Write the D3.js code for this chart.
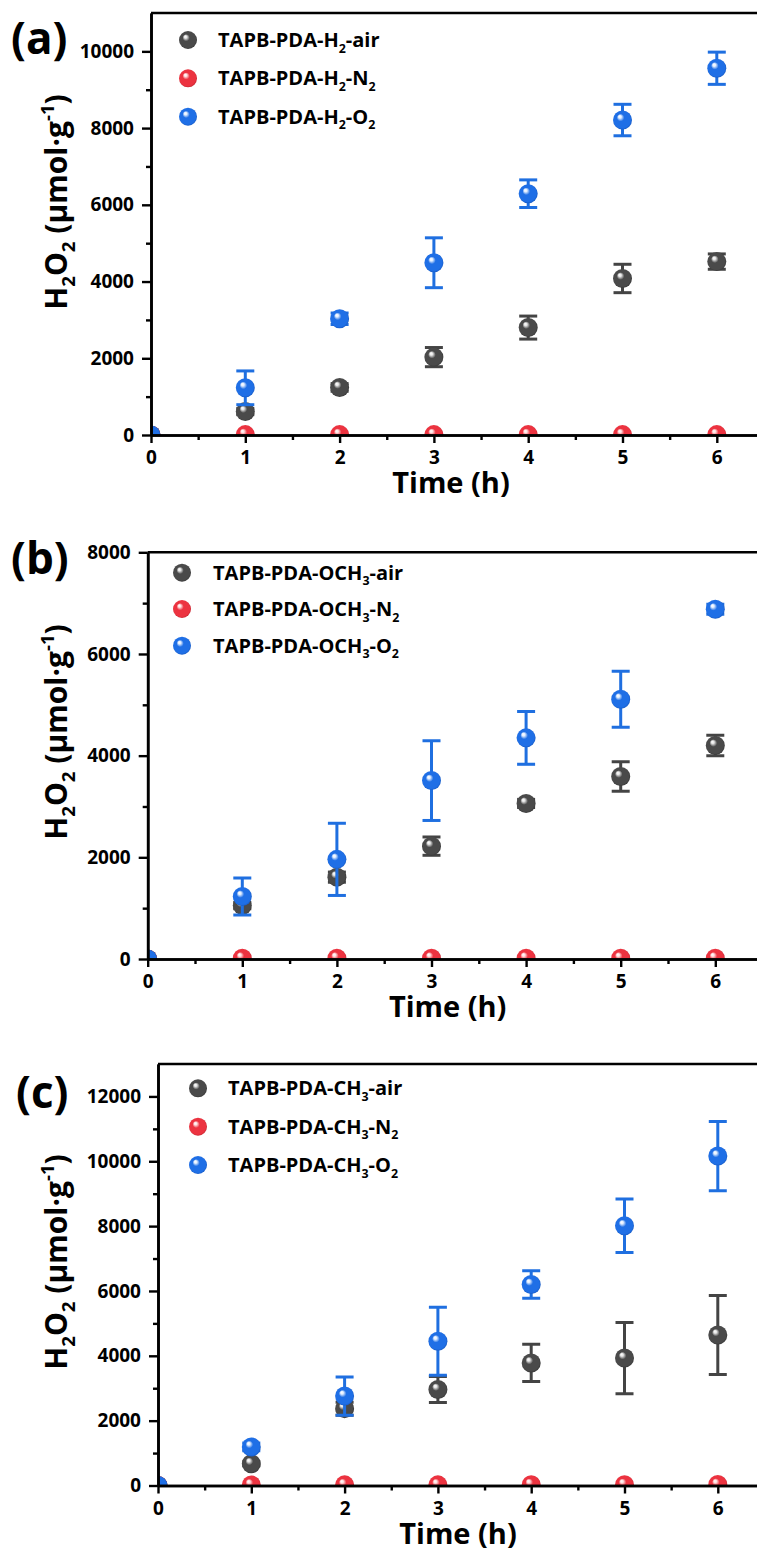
<!DOCTYPE html>
<html>
<head>
<meta charset="utf-8">
<script src="https://cdn.jsdelivr.net/npm/d3@7"></script>
<style>
  body { margin: 0; background: #fff; }
  svg { display: block; }
  text { font-family: "Open Sans", "DejaVu Sans", sans-serif; font-weight: 700; fill: #000; }
</style>
</head>
<body>
<svg id="chart" width="757" height="1552"></svg>
<script>
// Sampling times (h)
const hours = [0, 1, 2, 3, 4, 5, 6];

// (a) TAPB-PDA-H2, H2O2 yield (umol/g) and error
const airA    = [0, 610, 1240, 2030, 2800, 4080, 4520];
const airAErr = [0, 80, 100, 250, 300, 370, 200];
const n2A     = [0, 10, 10, 10, 10, 10, 10];
const n2AErr  = [0, 0, 0, 0, 0, 0, 0];
const o2A     = [0, 1230, 3030, 4490, 6290, 8210, 9560];
const o2AErr  = [0, 440, 150, 650, 360, 410, 420];

// (b) TAPB-PDA-OCH3
const airB    = [0, 1050, 1610, 2220, 3060, 3590, 4200];
const airBErr = [0, 60, 100, 180, 80, 290, 200];
const n2B     = [0, 15, 15, 15, 15, 15, 15];
const n2BErr  = [0, 0, 0, 0, 0, 0, 0];
const o2B     = [0, 1230, 1960, 3510, 4350, 5110, 6880];
const o2BErr  = [0, 365, 710, 785, 520, 550, 100];

// (c) TAPB-PDA-CH3
const airC    = [0, 670, 2370, 2960, 3780, 3930, 4640];
const airCErr = [0, 60, 200, 400, 575, 1100, 1220];
const n2C     = [0, 15, 20, 20, 25, 25, 30];
const n2CErr  = [0, 0, 0, 0, 0, 0, 0];
const o2C     = [0, 1190, 2760, 4450, 6200, 8010, 10160];
const o2CErr  = [0, 120, 590, 1050, 425, 825, 1070];

// Legend entries (_{..} subscript, ^{..} superscript)
const legendA = ["TAPB-PDA-H_{2}-air", "TAPB-PDA-H_{2}-N_{2}", "TAPB-PDA-H_{2}-O_{2}"];
const legendB = ["TAPB-PDA-OCH_{3}-air", "TAPB-PDA-OCH_{3}-N_{2}", "TAPB-PDA-OCH_{3}-O_{2}"];
const legendC = ["TAPB-PDA-CH_{3}-air", "TAPB-PDA-CH_{3}-N_{2}", "TAPB-PDA-CH_{3}-O_{2}"];

// Axis ticks and titles
const xTicks = [0, 1, 2, 3, 4, 5, 6];
const xMinorTicks = [0.5, 1.5, 2.5, 3.5, 4.5, 5.5, 6.5];
const yTicksA = [0, 2000, 4000, 6000, 8000, 10000];
const yTicksB = [0, 2000, 4000, 6000, 8000];
const yTicksC = [0, 2000, 4000, 6000, 8000, 10000, 12000];
const xTitle = "Time (h)";
const yTitle = "H_{2}O_{2} (μmol·g^{-1})";
const panelTags = ["(a)", "(b)", "(c)"];

// Sphere palette: [highlight, base, edge]
const palette = {
  air: ["#e6e6e6", "#4a4a4a", "#2f2f2f"],
  n2:  ["#ffe2e2", "#ec3340", "#b3202a"],
  o2:  ["#e3efff", "#1f6fe6", "#1552b5"]
};
const barColor = { air: "#444444", n2: "#e3323d", o2: "#1f6fe0" };

const svg = d3.select("#chart");
svg.append("rect").attr("width", 757).attr("height", 1552).attr("fill", "#fff");

const defs = svg.append("defs");
Object.entries(palette).forEach(([k, c]) => {
  const g = defs.append("radialGradient").attr("id", "ball-" + k)
    .attr("cx", "50%").attr("cy", "50%").attr("r", "55%")
    .attr("fx", "34%").attr("fy", "30%");
  g.append("stop").attr("offset", "0%").attr("stop-color", "#ffffff");
  g.append("stop").attr("offset", "14%").attr("stop-color", c[0]);
  g.append("stop").attr("offset", "36%").attr("stop-color", c[1]);
  g.append("stop").attr("offset", "82%").attr("stop-color", c[1]);
  g.append("stop").attr("offset", "100%").attr("stop-color", c[2]);
});

function rich(sel, str, size) {
  const parts = str.match(/_\{[^}]*\}|\^\{[^}]*\}|[^_^]+/g);
  let shift = 0;
  parts.forEach(p => {
    let target = 0, txt = p, fs = size;
    if (p[0] === "_") { target = size * 0.28; txt = p.slice(2, -1); fs = size * 0.62; }
    else if (p[0] === "^") { target = -size * 0.42; txt = p.slice(2, -1); fs = size * 0.62; }
    sel.append("tspan").attr("dy", target - shift).attr("font-size", fs).text(txt);
    shift = target;
  });
}

const panels = [
  { tag: panelTags[0], tagX: 11, tagY: 54, x0: 151, pxPerH: 94.3, yTop: 13, yBot: 435, yMax: 11000,
    yTicks: yTicksA, legend: legendA, legX: 188, legY: [40, 78.3, 116.7], textX: 218, titleY: 202,
    series: [
      { key: "air", v: airA, e: airAErr },
      { key: "n2", v: n2A, e: n2AErr },
      { key: "o2", v: o2A, e: o2AErr }
    ] },
  { tag: panelTags[1], tagX: 11, tagY: 574, x0: 147.7, pxPerH: 94.6, yTop: 552.3, yBot: 959, yMax: 8000,
    yTicks: yTicksB, legend: legendB, legX: 182, legY: [572.7, 609, 645.7], textX: 213, titleY: 732,
    series: [
      { key: "air", v: airB, e: airBErr },
      { key: "n2", v: n2B, e: n2BErr },
      { key: "o2", v: o2B, e: o2BErr }
    ] },
  { tag: panelTags[2], tagX: 16, tagY: 1108, x0: 158, pxPerH: 93.3, yTop: 1064, yBot: 1485.5, yMax: 13000,
    yTicks: yTicksC, legend: legendC, legX: 198, legY: [1088.3, 1126.7, 1165], textX: 228, titleY: 1262,
    series: [
      { key: "air", v: airC, e: airCErr },
      { key: "n2", v: n2C, e: n2CErr },
      { key: "o2", v: o2C, e: o2CErr }
    ] }
];

const R = 9.5;
const fmt = d3.format("d");

panels.forEach((p, i) => {
  const x = d3.scaleLinear().domain([0, 6.5]).range([p.x0, p.x0 + 6.5 * p.pxPerH]);
  const y = d3.scaleLinear().domain([0, p.yMax]).range([p.yBot, p.yTop]);
  const g = svg.append("g");

  const clipId = "clip-" + i;
  defs.append("clipPath").attr("id", clipId).append("rect")
    .attr("x", p.x0).attr("y", p.yTop)
    .attr("width", 757 - p.x0).attr("height", p.yBot - p.yTop);

  const plot = g.append("g").attr("clip-path", `url(#${clipId})`);

  p.series.forEach(s => {
    const pts = hours.map((h, j) => ({ h, v: s.v[j], e: s.e[j] }));
    const bars = plot.append("g").attr("stroke", barColor[s.key]).attr("stroke-width", 3).attr("fill", "none");
    pts.filter(d => d.e > 0).forEach(d => {
      const cx = x(d.h), y1 = y(d.v + d.e), y2 = y(d.v - d.e);
      bars.append("line").attr("x1", cx).attr("x2", cx).attr("y1", y1).attr("y2", y2);
      bars.append("line").attr("x1", cx - 9).attr("x2", cx + 9).attr("y1", y1).attr("y2", y1);
      bars.append("line").attr("x1", cx - 9).attr("x2", cx + 9).attr("y1", y2).attr("y2", y2);
    });
    plot.append("g").selectAll("circle").data(pts).join("circle")
      .attr("cx", d => x(d.h)).attr("cy", d => y(d.v)).attr("r", R)
      .attr("fill", `url(#ball-${s.key})`);
  });

  // Top frame line
  g.append("line").attr("x1", p.x0).attr("x2", 757).attr("y1", p.yTop).attr("y2", p.yTop)
    .attr("stroke", "#000").attr("stroke-width", 2.6);

  // Y axis: major + minor ticks
  const yMinor = d3.range(1000, p.yMax, 2000);
  const yAxisMinor = d3.axisLeft(y).tickValues(yMinor).tickSize(5).tickSizeOuter(0).tickFormat("");
  const yAxis = d3.axisLeft(y).tickValues(p.yTicks).tickSize(9).tickSizeOuter(0).tickPadding(8).tickFormat(fmt);
  const ya = g.append("g").attr("transform", `translate(${p.x0},0)`);
  ya.call(yAxisMinor);
  ya.append("g").call(yAxis);

  // X axis: major + minor ticks
  const xAxisMinor = d3.axisBottom(x).tickValues(xMinorTicks).tickSize(5).tickSizeOuter(0).tickFormat("");
  const xAxis = d3.axisBottom(x).tickValues(xTicks).tickSize(8).tickSizeOuter(0).tickPadding(8).tickFormat(fmt);
  const xa = g.append("g").attr("transform", `translate(0,${p.yBot})`);
  xa.call(xAxisMinor);
  xa.append("g").call(xAxis);

  [ya, xa].forEach(a => {
    a.selectAll(".domain").attr("stroke", "#000").attr("stroke-width", 2.6);
    a.selectAll(".tick line").attr("stroke", "#000").attr("stroke-width", 2.4);
    a.selectAll(".tick text").attr("font-family", "Open Sans, sans-serif").attr("font-weight", 700)
      .attr("font-size", 19).attr("fill", "#000");
  });

  // Axis titles
  g.append("text").attr("x", p.x0 + 300).attr("y", p.yBot + 58)
    .attr("text-anchor", "middle").attr("font-size", 29).text(xTitle);
  const yt = g.append("text").attr("text-anchor", "middle")
    .attr("transform", `translate(67,${p.titleY}) rotate(-90)`);
  rich(yt, yTitle, 30);

  // Panel tag
  g.append("text").attr("x", p.tagX).attr("y", p.tagY).attr("font-size", 44).text(p.tag);

  // Legend
  p.series.forEach((s, j) => {
    g.append("circle").attr("cx", p.legX).attr("cy", p.legY[j]).attr("r", 9)
      .attr("fill", `url(#ball-${s.key})`);
    const t = g.append("text").attr("x", p.textX).attr("y", p.legY[j] + 7).attr("font-size", 20);
    rich(t, p.legend[j], 20);
  });
});
</script>
</body>
</html>
